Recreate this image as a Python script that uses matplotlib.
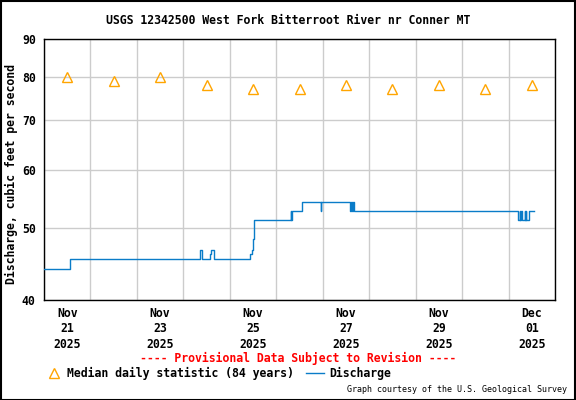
import matplotlib
matplotlib.use("Agg")
from matplotlib import pyplot as plt
from matplotlib.lines import Line2D
from matplotlib.patches import Rectangle
import matplotlib.dates as mdates
import matplotlib.ticker as mticker
import pandas as pd

# discharge, ft3/s, as step change points (value holds until next time)
q_times = ["2025-11-21 00:00", "2025-11-21 13:15",
           "2025-11-24 08:45", "2025-11-24 09:45", "2025-11-24 13:45",
           "2025-11-24 14:15", "2025-11-24 16:00",
           "2025-11-25 10:30", "2025-11-25 11:15", "2025-11-25 11:45",
           "2025-11-25 12:45",
           "2025-11-26 07:30", "2025-11-26 07:45", "2025-11-26 08:00",
           "2025-11-26 13:15", "2025-11-26 23:00", "2025-11-26 23:15",
           "2025-11-27 14:00", "2025-11-27 14:30", "2025-11-27 15:00",
           "2025-11-27 15:30", "2025-11-27 16:15",
           "2025-12-01 04:45", "2025-12-01 05:45", "2025-12-01 06:00",
           "2025-12-01 06:30", "2025-12-01 06:45", "2025-12-01 08:15",
           "2025-12-01 08:30", "2025-12-01 09:00", "2025-12-01 09:15",
           "2025-12-01 10:45", "2025-12-01 13:15"]
q_values = [44.0, 45.4,
            46.8, 45.4, 46.2,
            46.8, 45.4,
            46.2, 46.8, 48.3,
            51.3,
            52.7, 51.3, 52.7,
            54.2, 52.7, 54.2,
            52.7, 54.2, 52.7,
            54.2, 52.7,
            51.3, 52.7, 51.3,
            52.7, 51.3, 52.7,
            51.3, 52.7, 51.3,
            52.7, 52.7]

# median daily statistic (84 years), plotted at noon
med_days = pd.date_range("2025-11-21 12:00", "2025-12-01 12:00", freq="D")
med_values = [80, 79, 80, 78, 77, 77, 78, 77, 78, 77, 78]

y_ticks = [40, 50, 60, 70, 80, 90]

title = "USGS 12342500 West Fork Bitterroot River nr Conner MT"
ylabel = "Discharge, cubic feet per second"

mono = "DejaVu Sans Mono"
fs = 8.3

fig = plt.figure(figsize=(5.76, 4.0), dpi=100)
ax = fig.add_axes([44 / 576, 0.25, 511 / 576, (300 - 39.3) / 400])

t = pd.to_datetime(q_times)
ax.plot(t, q_values, drawstyle="steps-post", color="#0a7cc8", lw=1.0, zorder=3)
ax.plot(med_days, med_values, ls="none", marker="^", ms=7.5, mfc="none",
        mec="#ffa500", mew=1.0, zorder=4)

ax.set_yscale("log")
ax.set_ylim(40, 90)
ax.yaxis.set_major_locator(mticker.FixedLocator(y_ticks))
ax.yaxis.set_major_formatter(mticker.FixedFormatter([str(v) for v in y_ticks]))
ax.yaxis.set_minor_locator(mticker.NullLocator())

ax.set_xlim(pd.Timestamp("2025-11-21"), pd.Timestamp("2025-12-02"))
lab_days = pd.date_range("2025-11-21 12:00", "2025-12-01 12:00", freq="2D")
ax.set_xticks(lab_days)
ax.set_xticklabels([d.strftime("%b\n%d\n%Y") for d in lab_days])
ax.xaxis.set_minor_locator(mdates.DayLocator())

ax.grid(False)
ax.grid(True, which="minor", axis="x", color="#cccccc", lw=1.0)
ax.grid(True, which="major", axis="y", color="#cccccc", lw=1.0)
ax.set_axisbelow(True)

ax.tick_params(axis="both", which="both", length=0)
ax.tick_params(axis="x", pad=5)
ax.tick_params(axis="y", pad=6)
for lab in ax.get_xticklabels() + ax.get_yticklabels():
    lab.set_family(mono)
    lab.set_weight("bold")
    lab.set_fontsize(fs)
for lab in ax.get_xticklabels():
    lab.set_linespacing(1.25)
for s in ax.spines.values():
    s.set_color("black")
    s.set_linewidth(1.0)

fig.text(0.5, 1 - 20 / 400, title, ha="center", va="center",
         family=mono, weight="bold", fontsize=fs)
fig.text(11 / 576, 0.5 + (400 - 2 * 174) / 800, ylabel, rotation=90,
         ha="center", va="center", family=mono, weight="bold", fontsize=fs)

fig.text(298 / 576, 1 - 358 / 400,
         "---- Provisional Data Subject to Revision ----",
         ha="center", va="center", family=mono, weight="bold",
         fontsize=fs, color="red")

# legend row
ly = 1 - 373 / 400
fig.add_artist(Line2D([53.5 / 576], [ly], transform=fig.transFigure,
                      ls="none", marker="^", ms=7.5, mfc="none",
                      mec="#ffa500", mew=1.0))
fig.text(67 / 576, ly, "Median daily statistic (84 years)", ha="left",
         va="center", family=mono, weight="bold", fontsize=fs)
fig.add_artist(Line2D([306 / 576, 323.5 / 576], [ly, ly],
                      transform=fig.transFigure, color="#0a7cc8", lw=1.0))
fig.text(329.5 / 576, ly, "Discharge", ha="left", va="center",
         family=mono, weight="bold", fontsize=fs)

fig.text(567 / 576, 1 - 390 / 400,
         "Graph courtesy of the U.S. Geological Survey",
         ha="right", va="center", family=mono, fontsize=6.0)

fig.add_artist(Rectangle((0.001, 0.001), 0.997, 0.996, transform=fig.transFigure,
                         fill=False, edgecolor="black", lw=1.5))

fig.savefig("out.png", dpi=100)
